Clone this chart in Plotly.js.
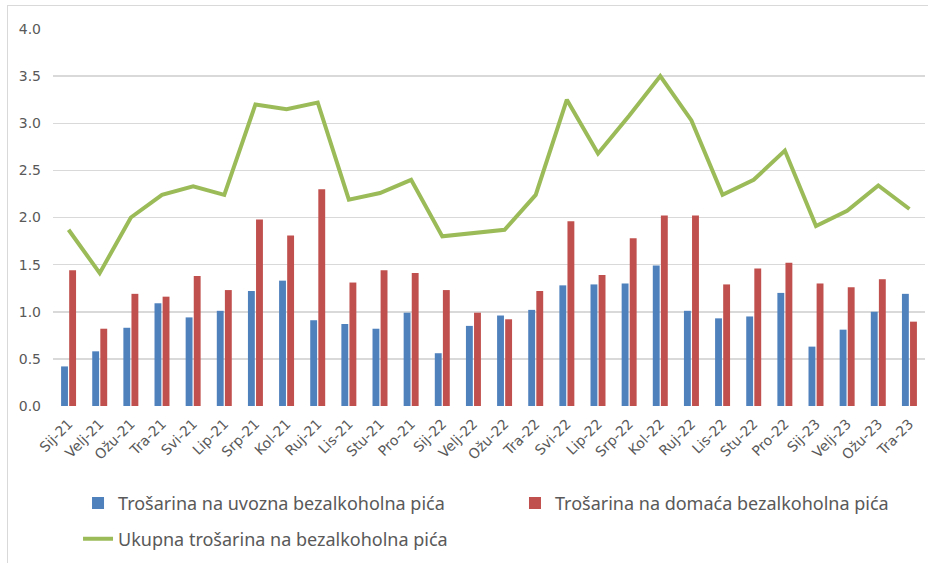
<!DOCTYPE html>
<html>
<head>
<meta charset="utf-8">
<script src="https://cdn.plot.ly/plotly-3.0.1.min.js"></script>
<style>
  html, body { margin: 0; padding: 0; background: #fff; }
  #wrap { position: relative; width: 928px; height: 563px; overflow: hidden; }
  #frame { position: absolute; left: 7px; top: 5px; width: 960px; height: 620px; border: 1px solid #d9d9d9; box-sizing: border-box; }
  #chart { position: absolute; left: 0; top: 0; width: 928px; height: 563px; }
</style>
</head>
<body>
<div id="wrap">
  <div id="frame"></div>
  <div id="chart"></div>
</div>
<script>
const categories = ["Sij-21","Velj-21","Ožu-21","Tra-21","Svi-21","Lip-21","Srp-21","Kol-21","Ruj-21","Lis-21","Stu-21","Pro-21",
  "Sij-22","Velj-22","Ožu-22","Tra-22","Svi-22","Lip-22","Srp-22","Kol-22","Ruj-22","Lis-22","Stu-22","Pro-22",
  "Sij-23","Velj-23","Ožu-23","Tra-23"];

const uvozna = [0.42,0.58,0.83,1.09,0.94,1.01,1.22,1.33,0.91,0.87,0.82,0.99,
  0.56,0.85,0.96,1.02,1.28,1.29,1.30,1.49,1.01,0.93,0.95,1.20,
  0.63,0.81,1.00,1.19];

const domaca = [1.44,0.82,1.19,1.16,1.38,1.23,1.98,1.81,2.30,1.31,1.44,1.41,
  1.23,0.99,0.92,1.22,1.96,1.39,1.78,2.02,2.02,1.29,1.46,1.52,
  1.30,1.26,1.345,0.895];

const ukupna = [1.87,1.41,2.00,2.24,2.33,2.24,3.20,3.15,3.22,2.19,2.26,2.40,
  1.80,1.83,1.87,2.24,3.25,2.68,3.08,3.50,3.03,2.24,2.40,2.71,
  1.91,2.07,2.34,2.09];

const names = ["Trošarina na uvozna bezalkoholna pića",
               "Trošarina na domaća bezalkoholna pića",
               "Ukupna trošarina na bezalkoholna pića"];

const traces = [
  { type: 'bar', x: categories, y: uvozna, name: names[0],
    marker: { color: '#4F81BD' }, legend: 'legend', hoverinfo: 'x+y' },
  { type: 'bar', x: categories, y: domaca, name: names[1],
    marker: { color: '#C0504D' }, legend: 'legend2', hoverinfo: 'x+y' },
  { type: 'scatter', mode: 'lines', x: categories, y: ukupna, name: names[2],
    line: { color: '#9BBB59', width: 4 }, legend: 'legend3', hoverinfo: 'x+y' }
];

const legendFont = { family: 'Noto Sans, Open Sans, sans-serif', size: 18, color: '#595959' };
function leg(x, y) {
  return { orientation: 'h', x: x, xanchor: 'left', y: y, yanchor: 'top',
           font: legendFont, bgcolor: 'rgba(0,0,0,0)' };
}

const layout = {
  width: 928, height: 563,
  margin: { l: 53, r: 3, t: 29, b: 157 },
  paper_bgcolor: 'rgba(0,0,0,0)',
  plot_bgcolor: 'rgba(0,0,0,0)',
  barmode: 'group',
  bargap: 0.48,
  bargroupgap: 0.15,
  showlegend: true,
  xaxis: {
    type: 'category',
    tickangle: -45,
    tickfont: { family: 'DejaVu Sans, Verdana, sans-serif', size: 14, color: '#595959' },
    showgrid: false, showline: false, ticks: '', zeroline: false,
    ticklabelstandoff: 6
  },
  yaxis: {
    range: [0, 4], dtick: 0.5, tick0: 0, tickformat: '.1f',
    tickfont: { family: 'DejaVu Sans, Verdana, sans-serif', size: 14, color: '#595959' },
    gridcolor: '#d9d9d9', gridwidth: 1.5, showline: false, zeroline: false, ticks: '',
    ticklabelstandoff: 11
  },
  legend: leg(0.0287, -0.209),
  legend2: leg(0.5298, -0.209),
  legend3: leg(0.0287, -0.304)
};

Plotly.newPlot('chart', traces, layout, { displayModeBar: false, staticPlot: true });
</script>
</body>
</html>
